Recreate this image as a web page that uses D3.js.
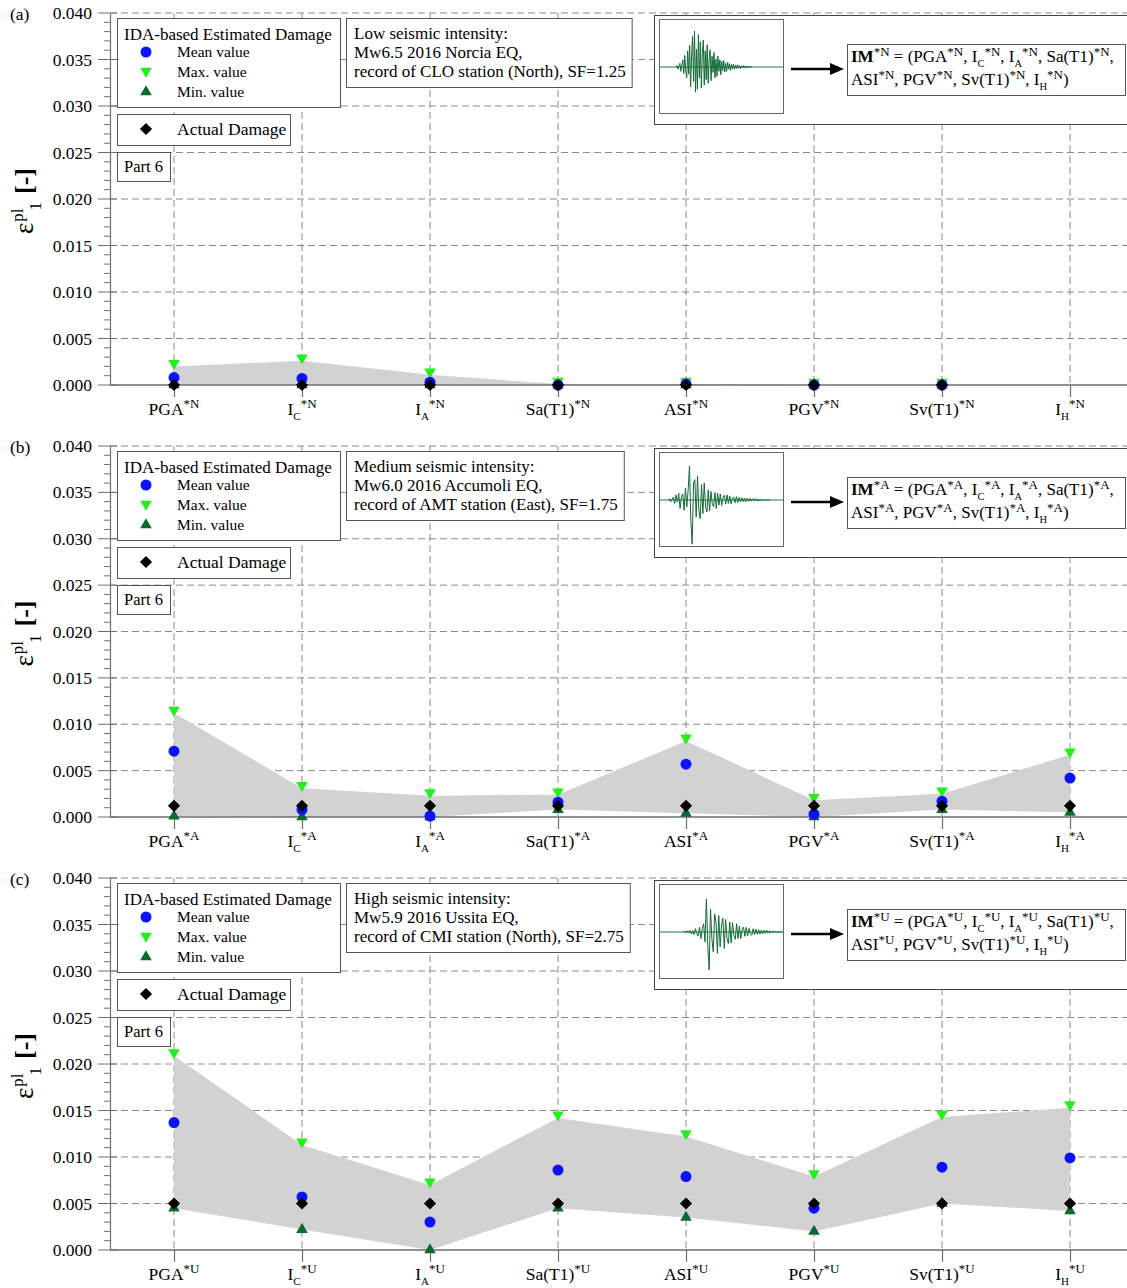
<!DOCTYPE html>
<html><head><meta charset="utf-8">
<script src="https://cdn.jsdelivr.net/npm/d3@7"></script>
<style>
html,body{margin:0;padding:0;background:#fff;}
svg{display:block;font-family:"Liberation Serif","Times New Roman",serif;}
svg text{font-family:"Liberation Serif","Times New Roman",serif !important;}
</style></head>
<body>
<svg id="chart" width="1127" height="1288"></svg>
<script>
// ---------- DATA ----------
const categories     = ["PGA","I","I","Sa(T1)","ASI","PGV","Sv(T1)","I"];
const categorySubs   = ["","C","A","","","","","H"];
const componentTags  = ["N","A","U"];
const panelLetters   = ["(a)","(b)","(c)"];
const yTicks         = [0.000,0.005,0.010,0.015,0.020,0.025,0.030,0.035,0.040];

// Panel (a) – low intensity, North
const meanN   = [0.0008,0.0007,0.0003,0.0000,0.0001,0.0000,0.0000,null];
const maxN    = [0.0020,0.0026,0.0011,0.0001,0.0001,0.0000,0.0000,null];
const minN    = [0.0000,0.0000,0.0000,0.0000,0.0000,0.0000,0.0000,null];
const actualN = [0.0000,0.0000,0.0000,0.0000,0.0000,0.0000,0.0000,null];
// Panel (b) – medium intensity, East
const meanA   = [0.0071,0.0008,0.0001,0.0016,0.0057,0.0003,0.0017,0.0042];
const maxA    = [0.0112,0.0031,0.0023,0.0024,0.0082,0.0018,0.0025,0.0067];
const minA    = [0.0001,0.0000,0.0000,0.0008,0.0004,0.0000,0.0008,0.0005];
const actualA = [0.0012,0.0012,0.0012,0.0012,0.0012,0.0012,0.0012,0.0012];
// Panel (c) – high intensity, North
const meanU   = [0.0137,0.0057,0.0030,0.0086,0.0079,0.0045,0.0089,0.0099];
const maxU    = [0.0209,0.0113,0.0070,0.0142,0.0122,0.0079,0.0143,0.0153];
const minU    = [0.0045,0.0022,0.0000,0.0045,0.0035,0.0020,0.0050,0.0042];
const actualU = [0.0050,0.0050,0.0050,0.0050,0.0050,0.0050,0.0050,0.0050];

const intensityLines = [
  ["Low seismic intensity:","Mw6.5 2016 Norcia EQ,","record of CLO station (North), SF=1.25"],
  ["Medium seismic intensity:","Mw6.0 2016 Accumoli EQ,","record of AMT station (East), SF=1.75"],
  ["High seismic intensity:","Mw5.9 2016 Ussita EQ,","record of CMI station (North), SF=2.75"]
];
const legendTitle = "IDA-based Estimated Damage";
const legendItems = ["Mean value","Max. value","Min. value"];
const actualLabel = "Actual Damage";
const partLabel   = "Part 6";

// Inset accelerogram sketches (normalised amplitudes)
const waveN = [0,0.04,-0.06,0.03,0.1,-0.12,0.05,0.2,-0.18,0.32,-0.1,-0.3,0.45,-0.2,0.6,-0.55,0.3,0.85,-0.4,1.0,-0.7,0.5,-0.62,0.9,-0.3,0.7,-0.58,0.35,0.75,-0.5,0.45,-0.35,0.62,-0.45,0.2,0.48,-0.38,0.3,-0.15,0.4,-0.3,0.22,-0.26,0.3,-0.12,0.2,-0.22,0.16,-0.1,0.18,-0.14,0.1,-0.12,0.13,-0.06,0.09,-0.1,0.07,-0.05,0.08,-0.06,0.05,-0.04,0.06,-0.03,0.04,-0.05,0.03,-0.02,0.04,-0.03,0.02,-0.02,0.03,-0.01,0.02,-0.02,0.01,0];
const waveA = [0,0.03,-0.05,0.02,0.08,-0.1,0.15,-0.06,0.2,-0.25,0.1,0.18,-0.3,0.35,-0.2,0.28,1.0,-0.6,-1.3,0.5,0.6,-0.5,0.7,-0.3,-0.55,0.45,-0.4,0.5,-0.2,-0.35,0.3,-0.32,0.25,-0.1,-0.2,0.22,-0.25,0.2,-0.15,0.18,-0.16,0.08,0.14,-0.12,0.15,-0.1,0.12,-0.11,0.05,0.09,-0.08,0.1,-0.07,0.08,-0.06,0.07,-0.05,0.06,-0.05,0.05,-0.04,0.05,-0.03,0.04,-0.03,0.04,-0.03,0.03,-0.02,0.03,-0.02,0.02,-0.02,0.02,-0.01,0.01,0];
const waveU = [0,0.02,-0.03,0.04,-0.02,0.05,-0.06,0.04,-0.08,0.1,-0.05,-0.12,0.15,-0.2,0.1,0.25,-0.3,1.0,-0.4,-1.15,0.7,-0.2,-0.6,0.55,0.3,-0.65,0.5,-0.45,0.2,0.42,-0.5,0.38,-0.2,-0.35,0.3,-0.33,0.28,-0.1,-0.22,0.25,-0.2,0.18,-0.2,0.08,0.15,-0.13,0.14,-0.12,0.11,-0.05,-0.1,0.1,-0.08,0.09,-0.07,0.07,-0.06,0.06,-0.05,0.05,-0.04,0.05,-0.03,0.04,-0.03,0.03,-0.02,0.03,-0.02,0.02,-0.01,0.01,0];

const panelData = [
  {mean:meanN,max:maxN,min:minN,actual:actualN,wave:waveN},
  {mean:meanA,max:maxA,min:minA,actual:actualA,wave:waveA},
  {mean:meanU,max:maxU,min:minU,actual:actualU,wave:waveU}
];

// ---------- LAYOUT ----------
const svg = d3.select("#chart");
const panelTops    = [13,446,878];
const panelBottoms = [385,817,1250];
const axisX = 110, plotRight = 1127;
const waveLayout = [ {x0:676,x1:752,amp:36}, {x0:668,x1:770,amp:34}, {x0:683,x1:782,amp:33} ];
const x = d3.scaleLinear().domain([0.5,8.5]).range([axisX,1134]);

const gridColor = "#8a8a8a", axisColor = "#6e6e6e", boxStroke = "#555";
const triSize = 58, diaSize = 74, dotR = 5.5;

function richText(textSel, parts, size, supSize, subSize){
  let cur = 0;
  parts.forEach(([t,mode])=>{
    const want = mode==="sup" ? -Math.round(size*0.38) : mode==="sub" ? Math.round(size*0.28) : 0;
    const ts = textSel.append("tspan").text(t).attr("dy", want-cur);
    cur = want;
    if(mode==="sup") ts.attr("font-size", supSize);
    else if(mode==="sub") ts.attr("font-size", subSize);
    else if(mode==="b") ts.attr("font-weight","bold");
  });
}

panelTops.forEach((top,p)=>{
  const bottom = panelBottoms[p];
  const d = panelData[p];
  const tag = componentTags[p];
  const y = d3.scaleLinear().domain([0,0.04]).range([bottom,top]);
  const g = svg.append("g");

  // grid
  g.append("g").selectAll("line").data(yTicks.filter(v=>v>0)).join("line")
    .attr("x1",axisX).attr("x2",plotRight).attr("y1",v=>y(v)).attr("y2",v=>y(v))
    .attr("stroke",gridColor).attr("stroke-width",1).attr("stroke-dasharray","7,4");
  g.append("g").selectAll("line").data(categories).join("line")
    .attr("x1",(c,i)=>x(i+1)).attr("x2",(c,i)=>x(i+1)).attr("y1",top).attr("y2",bottom)
    .attr("stroke",gridColor).attr("stroke-width",1).attr("stroke-dasharray","7,4");

  // y axis
  const yAxis = d3.axisLeft(y).tickValues(yTicks).tickFormat(d3.format(".3f")).tickSize(0).tickPadding(0);
  const ya = g.append("g").attr("transform",`translate(${axisX},0)`).call(yAxis)
    .attr("font-family",null).attr("font-size",null);
  ya.select(".domain").attr("stroke",axisColor).attr("stroke-width",1.2);
  ya.selectAll("text").attr("font-size",17.5).attr("x",-18).attr("fill","#000");
  const minor = d3.range(0,41).map(k=>k*0.001);
  g.append("g").selectAll("line").data(minor).join("line")
    .attr("x1",v=> Math.round(v*1000)%5===0 ? axisX-12 : axisX-6)
    .attr("x2",v=> Math.round(v*1000)%5===0 ? axisX+7 : axisX)
    .attr("y1",v=>y(v)).attr("y2",v=>y(v))
    .attr("stroke",axisColor).attr("stroke-width",1);

  // band
  const idx = d3.range(categories.length);
  const area = d3.area().defined(i=>d.max[i]!=null)
    .x(i=>x(i+1)).y0(i=>y(d.min[i])).y1(i=>y(d.max[i]));
  g.append("path").datum(idx).attr("d",area).attr("fill","#d2d2d2");

  // x axis
  const xAxis = d3.axisBottom(x).tickValues(idx.map(i=>i+1)).tickSize(12).tickFormat("");
  const xa = g.append("g").attr("transform",`translate(0,${bottom})`).call(xAxis);
  xa.select(".domain").remove();
  xa.selectAll(".tick line").attr("stroke",axisColor).attr("stroke-width",1.2);
  g.append("line").attr("x1",axisX).attr("x2",plotRight).attr("y1",bottom).attr("y2",bottom)
    .attr("stroke",axisColor).attr("stroke-width",1.6);

  // x labels
  categories.forEach((c,i)=>{
    const parts = [[c,""]];
    if(categorySubs[i]) parts.push([categorySubs[i],"sub"]);
    parts.push(["*"+tag,"sup"]);
    const t = g.append("text").attr("x",x(i+1)).attr("y",bottom+30)
      .attr("text-anchor","middle").attr("font-size",17.5).attr("fill","#000");
    richText(t, parts, 17.5, 13, 11);
  });

  // markers
  const defined = idx.filter(i=>d.mean[i]!=null);
  g.append("g").selectAll("path").data(defined).join("path")
    .attr("d",d3.symbol(d3.symbolTriangle, triSize)())
    .attr("transform",i=>`translate(${x(i+1)},${y(d.min[i])}) `)
    .attr("fill","#0b6a2e");
  g.append("g").selectAll("path").data(defined).join("path")
    .attr("d",d3.symbol(d3.symbolTriangle, triSize)())
    .attr("transform",i=>`translate(${x(i+1)},${y(d.max[i])-3}) rotate(180)`)
    .attr("fill","#22f01a");
  g.append("g").selectAll("circle").data(defined).join("circle")
    .attr("cx",i=>x(i+1)).attr("cy",i=>y(d.mean[i])).attr("r",dotR).attr("fill","#0a12ff");
  g.append("g").selectAll("path").data(defined).join("path")
    .attr("d",d3.symbol(d3.symbolSquare, diaSize)())
    .attr("transform",i=>`translate(${x(i+1)},${y(d.actual[i])}) rotate(45)`)
    .attr("fill","#000");

  // panel letter
  svg.append("text").attr("x",10).attr("y",top+7).attr("font-size",17.5).text(panelLetters[p]);

  // y label
  const cy = (top+bottom)/2 + 2;
  const yl = svg.append("text").attr("transform",`translate(33,${cy}) rotate(-90)`)
    .attr("text-anchor","middle").attr("font-size",24);
  yl.append("tspan").text("ε").attr("font-size",27);
  yl.append("tspan").text("pl").attr("font-size",17).attr("dy",-10).attr("dx",1);
  yl.append("tspan").text("1").attr("font-size",17).attr("dy",18).attr("dx",-2);
  yl.append("tspan").text("[-]").attr("font-size",26).attr("font-weight","bold").attr("dy",-8).attr("dx",8);

  // legend box 1
  const L = svg.append("g");
  L.append("rect").attr("x",117.5).attr("y",top+5.5).attr("width",223).attr("height",89)
    .attr("fill","#fff").attr("stroke",boxStroke);
  L.append("text").attr("x",124).attr("y",top+27).attr("font-size",17).text(legendTitle);
  const ly = [top+39, top+59, top+79];
  L.append("circle").attr("cx",146).attr("cy",ly[0]).attr("r",dotR).attr("fill","#0a12ff");
  L.append("path").attr("d",d3.symbol(d3.symbolTriangle,triSize)())
    .attr("transform",`translate(146,${ly[1]-1}) rotate(180)`).attr("fill","#22f01a");
  L.append("path").attr("d",d3.symbol(d3.symbolTriangle,triSize)())
    .attr("transform",`translate(146,${ly[2]})`).attr("fill","#0b6a2e");
  legendItems.forEach((t,k)=>{
    L.append("text").attr("x",177).attr("y",ly[k]+5).attr("font-size",15.5).text(t);
  });
  // legend box 2
  L.append("rect").attr("x",117.5).attr("y",top+101.5).attr("width",173).attr("height",31)
    .attr("fill","#fff").attr("stroke",boxStroke);
  L.append("path").attr("d",d3.symbol(d3.symbolSquare,diaSize)())
    .attr("transform",`translate(146,${top+116}) rotate(45)`).attr("fill","#000");
  L.append("text").attr("x",177).attr("y",top+122).attr("font-size",17.5).text(actualLabel);
  // legend box 3
  L.append("rect").attr("x",117.5).attr("y",top+139.5).attr("width",53).attr("height",29)
    .attr("fill","#fff").attr("stroke",boxStroke);
  L.append("text").attr("x",124).attr("y",top+159).attr("font-size",16.5).text(partLabel);

  // intensity box
  const ib = svg.append("g");
  const ibRect = ib.append("rect").attr("x",346.5).attr("y",top+5.5).attr("height",69)
    .attr("fill","#fff").attr("stroke",boxStroke);
  let wmax = 0;
  intensityLines[p].forEach((t,k)=>{
    const tt = ib.append("text").attr("x",354).attr("y",top+26+k*19).attr("font-size",17).text(t);
    wmax = Math.max(wmax, tt.node().getComputedTextLength());
  });
  ibRect.attr("width", wmax+14);

  // inset
  const ins = svg.append("g");
  ins.append("rect").attr("x",654.5).attr("y",top+2.5).attr("width",480).attr("height",109)
    .attr("fill","#fff").attr("stroke","#444");
  ins.append("rect").attr("x",659.5).attr("y",top+6.5).attr("width",124).attr("height",94)
    .attr("fill","#fff").attr("stroke","#666");
  const base = top+54;
  const wl = waveLayout[p];
  const wx = d3.scaleLinear().domain([0,d.wave.length-1]).range([wl.x0,wl.x1]);
  const wy = d3.scaleLinear().domain([-1,1]).range([base+wl.amp, base-wl.amp]);
  ins.append("line").attr("x1",660).attr("x2",783).attr("y1",base).attr("y2",base)
    .attr("stroke","#1d7a45").attr("stroke-width",1);
  ins.append("path").datum(d.wave)
    .attr("d",d3.line().x((v,i)=>wx(i)).y(v=>wy(v)))
    .attr("fill","none").attr("stroke","#146b38").attr("stroke-width",1);
  // arrow
  const ay = top+56;
  ins.append("line").attr("x1",791).attr("x2",832).attr("y1",ay).attr("y2",ay)
    .attr("stroke","#000").attr("stroke-width",2.5);
  ins.append("path").attr("d",`M830,${ay-6}L844,${ay}L830,${ay+6}Z`).attr("fill","#000");
  // IM box
  ins.append("rect").attr("x",847.5).attr("y",top+31.5).attr("width",278).attr("height",51)
    .attr("fill","#fff").attr("stroke",boxStroke);
  const s = "*"+tag;
  const t1 = ins.append("text").attr("x",851).attr("y",top+49).attr("font-size",17);
  richText(t1, [["IM","b"],[s,"sup"],[" = (PGA",""],[s,"sup"],[", I",""],["C","sub"],[s,"sup"],
    [", I",""],["A","sub"],[s,"sup"],[", Sa(T1)",""],[s,"sup"],[",",""]], 17, 13, 10.5);
  const t2 = ins.append("text").attr("x",851).attr("y",top+72).attr("font-size",17);
  richText(t2, [["ASI",""],[s,"sup"],[", PGV",""],[s,"sup"],[", Sv(T1)",""],[s,"sup"],
    [", I",""],["H","sub"],[s,"sup"],[")",""]], 17, 13, 10.5);
});
</script>
</body></html>
